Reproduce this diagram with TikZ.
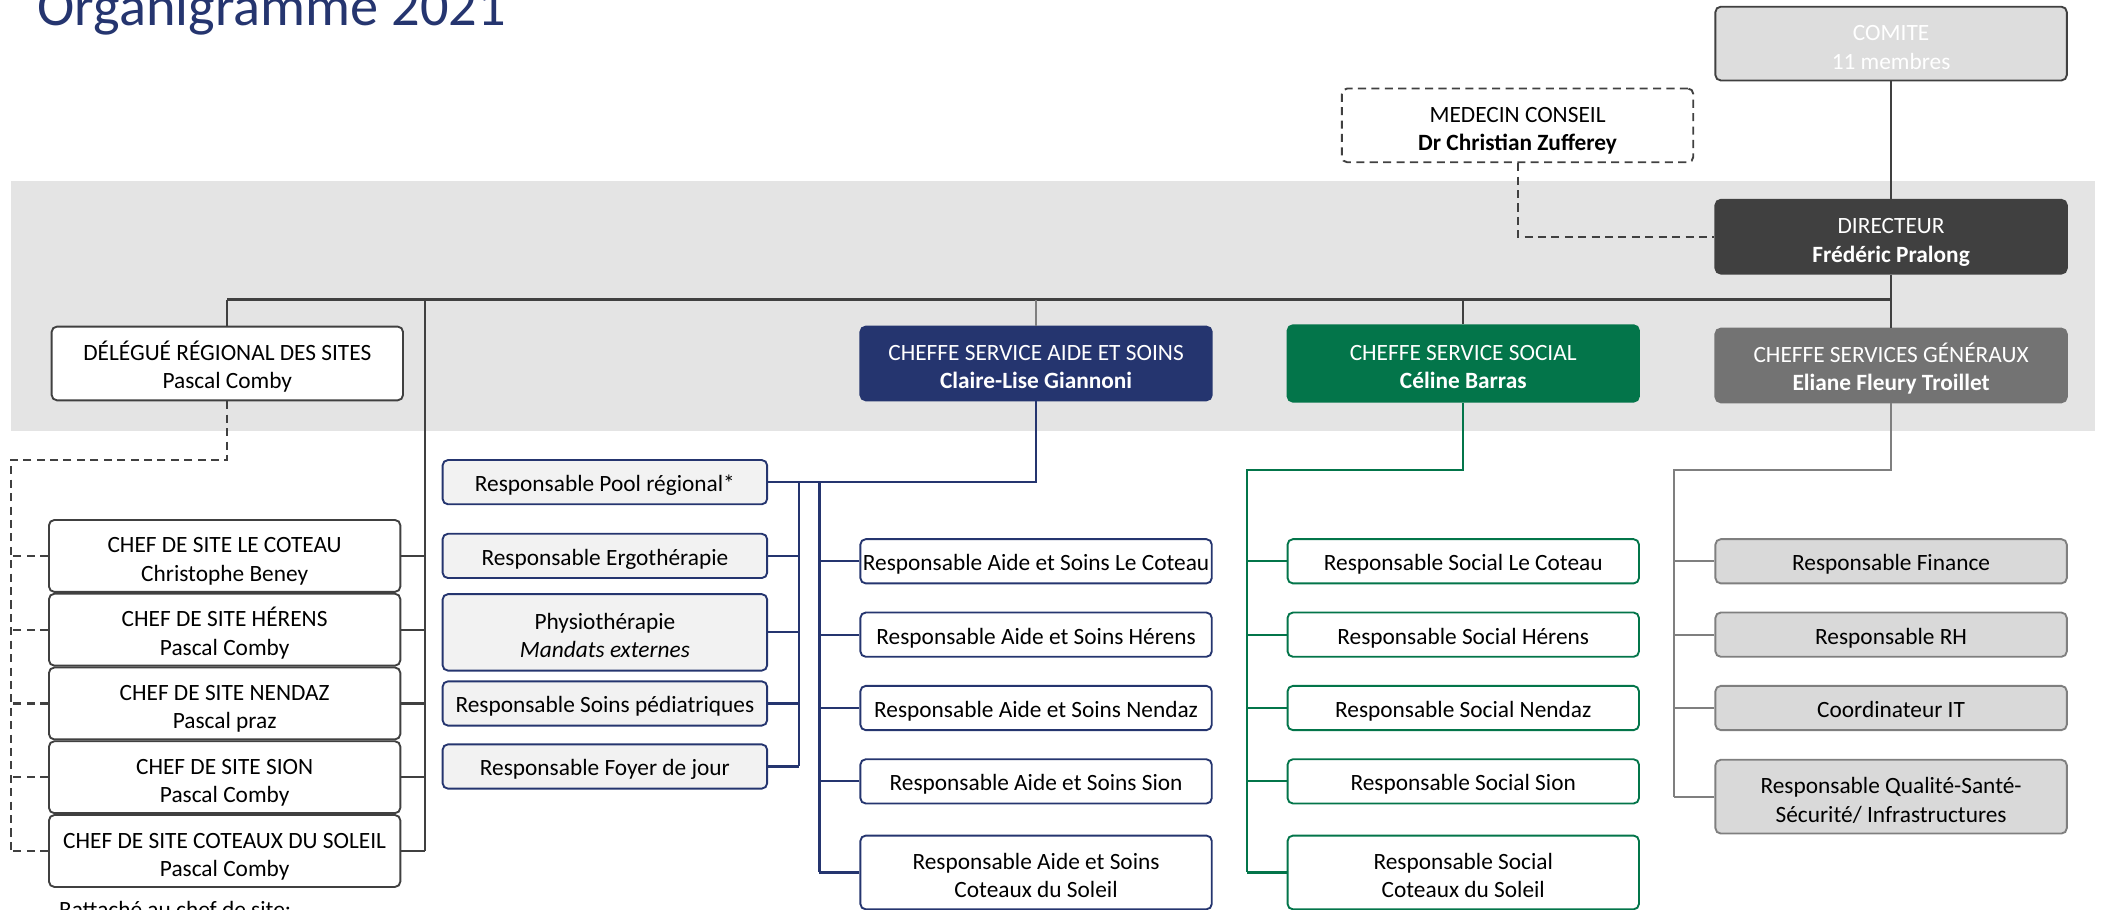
\documentclass[tikz,border=0pt]{standalone}
\usepackage{fontspec}
\setmainfont{Carlito}
\usepackage{tikz}
\usetikzlibrary{calc}
\usetikzlibrary{positioning}

\definecolor{navy}{RGB}{37,53,111}
\definecolor{vert}{RGB}{3,117,74}
\definecolor{sombre}{RGB}{64,64,64}
\definecolor{moyen}{RGB}{115,115,115}
\definecolor{bande}{RGB}{228,228,228}
\definecolor{clair}{RGB}{217,217,217}
\definecolor{comitegris}{RGB}{221,221,221}
\definecolor{pale}{RGB}{242,242,242}
\definecolor{trait}{RGB}{127,127,127}

\begin{document}
\begin{tikzpicture}[x=0.5pt, y=-0.5pt,
        cadre/.style={rectangle, rounded corners=2pt, draw=sombre, line width=0.7pt, minimum width=131pt, inner sep=0pt, align=center, font=\fontsize{8.7}{10.6}\selectfont},
        box/.style={cadre, minimum height=27.5pt,
            execute at begin node={\rule{0pt}{21pt}},
            execute at end node={\rule[-2pt]{0pt}{2pt}}},
        petit/.style={cadre, minimum height=16.5pt,
            execute at begin node={\rule{0pt}{9pt}},
            execute at end node={\rule[-2pt]{0pt}{2pt}}},
        colonne/.style={fill=pale, draw=navy, minimum width=121pt},
        lien/.style={draw=sombre, line width=0.8pt},
        tiret/.style={lien, dash pattern=on 3pt off 2pt}]
            \useasboundingbox (0,0) rectangle (1568,678);
            \fill[bande] (8,135) rectangle (1562,321);
            \node[anchor=base west, text=navy, font=\fontsize{21}{25}\selectfont] (titre) at (21,19) {Organigramme 2021};

            % direction
            \node[box, fill=comitegris, text=white] (comite) at (1410,32.5) {COMITE\\11 membres};
            \node[box, fill=white, dash pattern=on 3pt off 2pt] (medecin) at (1131.5,93.5) {MEDECIN CONSEIL\\\textbf{Dr Christian Zufferey}};
            \node[box, fill=sombre, text=white] (directeur) at (1410,176.5) {DIRECTEUR\\\textbf{Frédéric Pralong}};

            % chefs de service
            \node[box, fill=white] (delegue) at (169.5,271) {DÉLÉGUÉ RÉGIONAL DES SITES\\Pascal Comby};
            \node[box, fill=navy, draw=navy, text=white] (aide) at (772.5,271) {CHEFFE SERVICE AIDE ET SOINS\\\textbf{Claire-Lise Giannoni}};
            \node[box, fill=vert, draw=vert, text=white, minimum height=28.5pt] (social) at (1091,271) {CHEFFE SERVICE SOCIAL\\\textbf{Céline Barras}};
            \node[box, fill=moyen, draw=moyen, text=white] (generaux) at (1410,272.5) {CHEFFE SERVICES GÉNÉRAUX\\\textbf{Eliane Fleury Troillet}};

            \coordinate (barre) at (0,223.5);
            \draw[lien, line width=1.2pt] (delegue.north |- barre) -- (generaux.north |- barre);
            \draw[lien] (comite.south) -- (directeur.north);
            \draw[lien] (directeur.south) -- (generaux.north);
            \draw[lien] (delegue.north) -- (delegue.north |- barre);
            \draw[lien, draw=trait] (aide.north) -- (aide.north |- barre);
            \draw[lien] (social.north) -- (social.north |- barre);
            \draw[tiret] (medecin.south) |- (directeur.west);

            % chefs de site
            \foreach \site/\nom [count=\i] in {LE COTEAU/Christophe Beney, HÉRENS/Pascal Comby, NENDAZ/Pascal praz, SION/Pascal Comby, COTEAUX DU SOLEIL/Pascal Comby}
            {
                \node[box, fill=white, minimum height=26.8pt] (chef\i) at (167.5,359.5+55*\i) {CHEF DE SITE \site\\\nom};
            }
            \node[anchor=base west, font=\fontsize{8.7}{10.6}\selectfont] (note) at (37,684) {Rattaché au chef de site:};

            \coordinate (sites) at (317,0);
            \coordinate (gauche) at (8,343);
            \draw[lien] (sites |- barre) -- (sites |- chef5.east);
            \draw[tiret] (delegue.south) |- (gauche) -- (gauche |- chef5.west);
            \foreach \i in {1,...,5}
            {
                \draw[lien] (chef\i.east) -- (sites |- chef\i.east);
                \draw[tiret] (chef\i.west) -- (gauche |- chef\i.west);
            }

            % aide et soins
            \node[petit, colonne] (pool) at (451,359.5) {Responsable Pool régional*};
            \node[petit, colonne] (ergo) at (451,414.5) {Responsable Ergothérapie};
            \node[box, colonne, minimum height=28.5pt] (physio) at (451,471.5) {Physiothérapie\\\textit{Mandats externes}};
            \node[petit, colonne] (pediatrie) at (451,524.5) {Responsable Soins pédiatriques};
            \node[petit, colonne] (foyer) at (451,571.5) {Responsable Foyer de jour};

            \foreach \lieu [count=\i] in {Le Coteau, Hérens, Nendaz, Sion}
            {
                \node[petit, fill=white, draw=navy] (aide\i) at (772.5,363.8+54.7*\i) {Responsable Aide et Soins \lieu};
                \node[petit, fill=white, draw=vert] (social\i) at (1091,363.8+54.7*\i) {Responsable Social \lieu};
            }
            \node[box, fill=white, draw=navy] (aide5) at (772.5,650.5) {Responsable Aide et Soins\\Coteaux du Soleil};
            \node[box, fill=white, draw=vert] (social5) at (1091,650.5) {Responsable Social\\Coteaux du Soleil};

            \coordinate (nav1) at (596,0);
            \coordinate (nav2) at (611,0);
            \draw[lien, draw=navy] (aide.south) |- (pool.east);
            \draw[lien, draw=navy] (nav1 |- pool.east) -- (nav1 |- foyer.east);
            \draw[lien, draw=navy] (nav2 |- pool.east) -- (nav2 |- aide5.west);
            \foreach \n in {ergo, physio, pediatrie, foyer}
                \draw[lien, draw=navy] (\n.east) -- (nav1 |- \n.east);
            \foreach \i in {1,...,5}
                \draw[lien, draw=navy] (aide\i.west) -- (nav2 |- aide\i.west);

            % social
            \coordinate (ver) at (930,350.5);
            \draw[lien, draw=vert] (social.south) |- (ver) -- (ver |- social5.west);
            \foreach \i in {1,...,5}
                \draw[lien, draw=vert] (social\i.west) -- (ver |- social\i.west);

            % services generaux
            \foreach \poste [count=\i] in {Responsable Finance, Responsable RH, Coordinateur IT}
            {
                \node[petit, fill=clair, draw=trait] (gen\i) at (1410,363.8+54.7*\i) {\poste};
            }
            \node[box, fill=clair, draw=trait] (gen4) at (1410,594) {Responsable Qualité-Santé-\\Sécurité/ Infrastructures};

            \coordinate (gri) at (1248,350.5);
            \draw[lien, draw=trait] (generaux.south) |- (gri) -- (gri |- gen4.west);
            \foreach \i in {1,...,4}
                \draw[lien, draw=trait] (gen\i.west) -- (gri |- gen\i.west);
        \end{tikzpicture}
\end{document}
